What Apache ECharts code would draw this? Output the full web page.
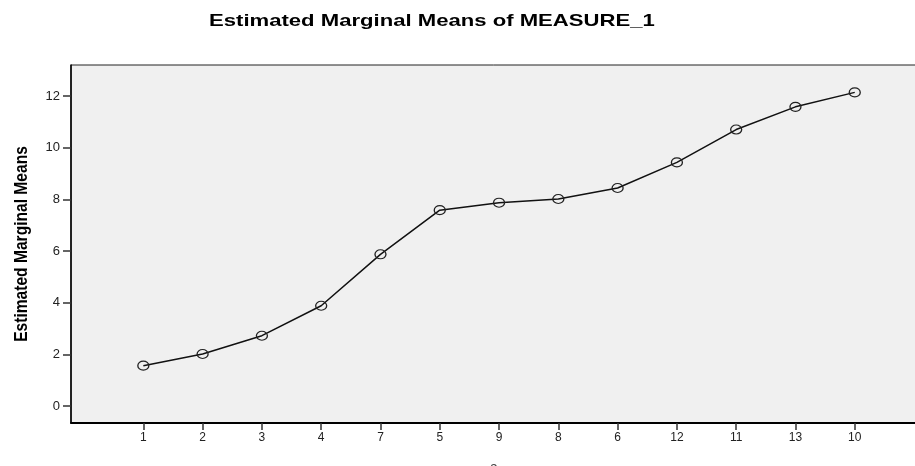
<!DOCTYPE html>
<html>
<head>
<meta charset="utf-8">
<script src="https://cdn.jsdelivr.net/npm/echarts@6/dist/echarts.min.js"></script>
<style>html,body{margin:0;padding:0;background:#fff;overflow:hidden}#c{width:915px;height:466px}</style>
</head>
<body>
<div id="c"></div>
<script>
const categories = ['1','2','3','4','7','5','9','8','6','12','11','13','10'];
const means = [1.56, 2.01, 2.72, 3.88, 5.87, 7.58, 7.87, 8.01, 8.44, 9.43, 10.70, 11.58, 12.14];
const yTicks = [0, 2, 4, 6, 8, 10, 12];
const titleText = 'Estimated Marginal Means of MEASURE_1';
const yTitle = 'Estimated Marginal Means';
const xTitle = 'a';

const idx = categories.map((c, i) => i);
const pts = means.map((v, i) => [i, v]);
const FONT = 'Liberation Sans, Arial, sans-serif';

const chart = echarts.init(document.getElementById('c'), null, {renderer: 'canvas'});
chart.setOption({
  animation: false,
  backgroundColor: '#fff',
  graphic: [
    {type: 'text', x: 209, y: 13, scaleX: 1.3, scaleY: 1,
      style: {text: titleText, font: 'bold 17px ' + FONT, fill: '#000', textVerticalAlign: 'top'}},
    {type: 'text', x: 22, y: 244, rotation: Math.PI / 2, scaleX: 0.82,
      style: {text: yTitle, font: 'bold 19px ' + FONT, fill: '#000', textAlign: 'center', textVerticalAlign: 'middle'}}
  ],
  grid: {
    left: 71, top: 65, right: -2, bottom: 43,
    outerBoundsMode: 'none', containLabel: false,
    show: true, backgroundColor: '#f0f0f0', borderColor: '#222', borderWidth: 1
  },
  xAxis: {
    type: 'value', min: -1.22, max: 13.05,
    name: xTitle, nameLocation: 'middle', nameGap: 38,
    nameTextStyle: {fontFamily: FONT, fontSize: 14, color: '#444'},
    axisLine: {show: true, onZero: false, lineStyle: {color: '#000', width: 2}},
    axisTick: {show: true, customValues: idx, length: 7, lineStyle: {color: '#333', width: 1.5}},
    axisLabel: {customValues: idx, formatter: v => categories[Math.round(v)] || '', color: '#222',
      fontFamily: FONT, fontSize: 12, margin: 9},
    splitLine: {show: false}
  },
  yAxis: {
    type: 'value', min: -0.66, max: 13.2,
    axisLine: {show: true, onZero: false, lineStyle: {color: '#000', width: 1.5}},
    axisTick: {show: true, customValues: yTicks, length: 8, lineStyle: {color: '#333', width: 1.5}},
    axisLabel: {customValues: yTicks, color: '#222', fontFamily: FONT, fontSize: 13, margin: 11},
    splitLine: {show: false}
  },
  series: [{
    type: 'line',
    data: pts,
    symbol: 'circle',
    symbolSize: [11, 9],
    lineStyle: {color: '#111', width: 1.5},
    itemStyle: {color: 'rgba(0,0,0,0)', borderColor: '#222', borderWidth: 1.2},
    z: 3
  }]
});
</script>
</body>
</html>
